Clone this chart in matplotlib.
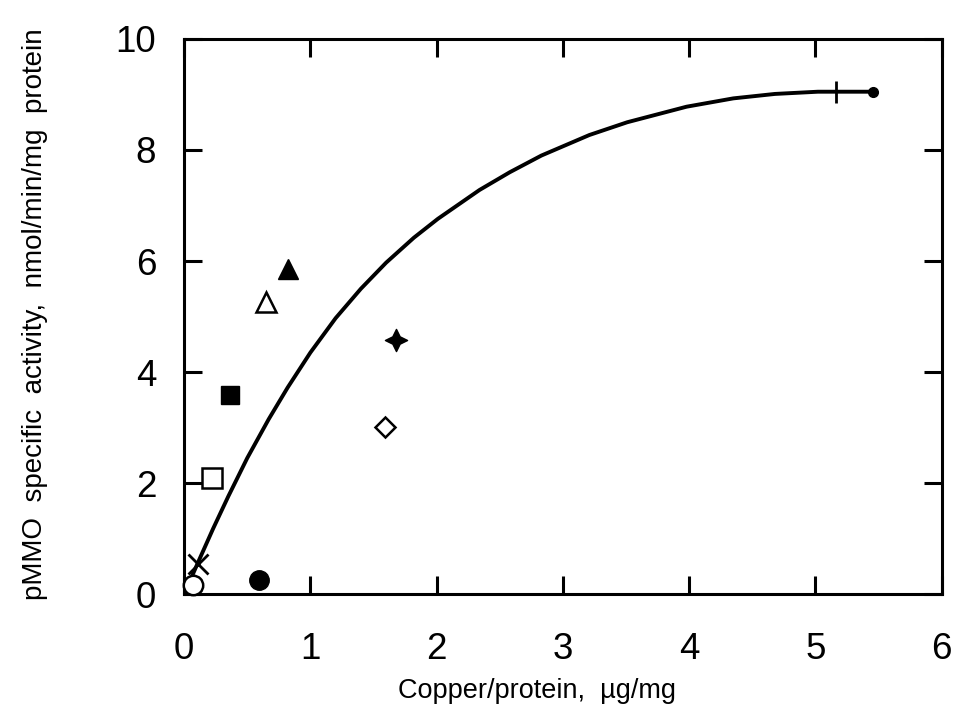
import matplotlib
matplotlib.use("Agg")
import matplotlib.pyplot as plt
from matplotlib.path import Path

plt.rcParams["font.family"] = ["Liberation Sans", "DejaVu Sans"]

# Fitted saturation curve
curve_x = [0.0, 0.12, 0.23, 0.35, 0.50, 0.67, 0.82, 1.00, 1.20, 1.40, 1.60,
           1.82, 2.01, 2.34, 2.58, 2.83, 3.21, 3.51, 3.98, 4.35, 4.68, 5.02,
           5.18, 5.46]
curve_y = [0.0, 0.62, 1.18, 1.76, 2.45, 3.15, 3.72, 4.35, 4.97, 5.50, 5.97,
           6.42, 6.76, 7.28, 7.60, 7.90, 8.27, 8.50, 8.78, 8.93, 9.01, 9.05,
           9.05, 9.05]

# Individual samples (x = copper/protein, y = activity)
open_circle = (0.07, 0.17)
cross = (0.11, 0.54)
filled_circle = (0.59, 0.25)
open_square = (0.22, 2.09)
filled_square = (0.36, 3.58)
open_triangle = (0.65, 5.26)
filled_triangle = (0.82, 5.85)
filled_star = (1.68, 4.58)
open_diamond = (1.59, 3.01)
plus = (5.16, 9.04)
end_dot = (5.46, 9.05)

x_ticks = [0, 1, 2, 3, 4, 5, 6]
y_ticks = [0, 2, 4, 6, 8, 10]

# concave four-point star used for one of the filled symbols
star_verts = [(0, 1), (0.33, 0.33), (1, 0), (0.33, -0.33), (0, -1),
              (-0.33, -0.33), (-1, 0), (-0.33, 0.33), (0, 1)]
star_marker = Path(star_verts, closed=True)

fig = plt.figure(figsize=(9.54, 7.05), dpi=100)
ax = fig.add_axes([0.193, 0.1574, 0.794, 0.7873])

ax.plot(curve_x, curve_y, color="black", lw=2.8, solid_capstyle="round",
        solid_joinstyle="round")

common = dict(color="black", ls="none", clip_on=False, zorder=3)
ax.plot(*open_circle, marker="o", ms=14, mfc="white", mew=1.8, **common)
ax.plot(*cross, marker="x", ms=14, mew=2.0, **common)
ax.plot(*filled_circle, marker="o", ms=14, **common)
ax.plot(*open_square, marker="s", ms=14, mfc="white", mew=1.8, **common)
ax.plot(*filled_square, marker="s", ms=13.5, **common)
ax.plot(*open_triangle, marker="^", ms=14, mfc="white", mew=1.8, **common)
ax.plot(*filled_triangle, marker="^", ms=14, **common)
ax.plot(*filled_star, marker=star_marker, ms=16, **common)
ax.plot(*open_diamond, marker="D", ms=10, mfc="white", mew=1.8, **common)
ax.plot(*plus, marker="|", ms=16, mew=2.0, **common)
ax.plot(*end_dot, marker="o", ms=7, **common)

ax.set_xlim(0, 6)
ax.set_ylim(0, 10)
ax.set_xticks(x_ticks)
ax.set_yticks(y_ticks)
ax.tick_params(direction="in", top=True, right=True, length=13, width=2.2,
               labelsize=26.5)
ax.tick_params(axis="x", pad=27)
ax.tick_params(axis="y", pad=20)
for s in ax.spines.values():
    s.set_linewidth(2.2)

fig.text(0.563, 0.01, "Copper/protein,  \u00b5g/mg", ha="center",
         va="baseline", fontsize=19.5)
fig.text(0.037, 0.555, "pMMO  specific  activity,  nmol/min/mg  protein",
         rotation=90, ha="center", va="center", fontsize=20)

fig.savefig("out.png", dpi=100)
